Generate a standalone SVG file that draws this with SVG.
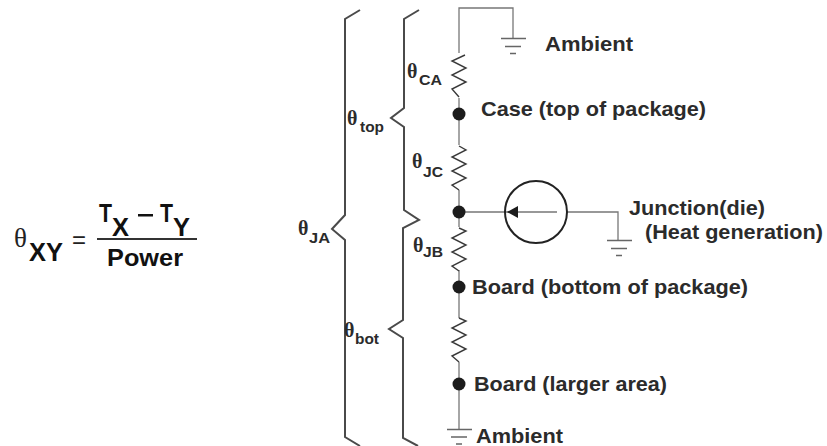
<svg xmlns="http://www.w3.org/2000/svg" width="827" height="446" viewBox="0 0 827 446">
<style>
text{font-family:"Liberation Sans",Arial,sans-serif;font-weight:bold;fill:#2b2b2b}
.lbl{font-size:20.500px}
.sym{font-size:20px;font-family:"Liberation Serif","DejaVu Serif",serif;font-weight:bold}
.sub{font-size:15px}
.f{fill:#111}
.brace{fill:none;stroke:#4a4a4a;stroke-width:2}
.wire{fill:none;stroke:#777;stroke-width:1.3}
.res{fill:none;stroke:#3a3a3a;stroke-width:1.4}
.gnd{fill:none;stroke:#666;stroke-width:1.4}
.dot{fill:#1c1c1c}
</style>
<rect width="827" height="446" fill="#fff"/>
<g id="formula">
<text x="14" y="247" style="font-family:'Liberation Serif',serif;font-weight:normal;font-size:27px;fill:#222">θ</text>
<text class="f" x="29" y="261" font-size="25" textLength="34" lengthAdjust="spacingAndGlyphs">XY</text>
<text x="72" y="248" style="font-size:24px;fill:#222;font-weight:normal">=</text>
<text class="f" x="99" y="222" font-size="26" textLength="13" lengthAdjust="spacingAndGlyphs">T</text>
<text class="f" x="112" y="236" font-size="25" textLength="17" lengthAdjust="spacingAndGlyphs">X</text>
<rect x="138" y="214" width="15" height="2.500" fill="#111"/>
<text class="f" x="160" y="222" font-size="26" textLength="13" lengthAdjust="spacingAndGlyphs">T</text>
<text class="f" x="173" y="236" font-size="25" textLength="17" lengthAdjust="spacingAndGlyphs">Y</text>
<rect x="97" y="238" width="100" height="2" fill="#333"/>
<text class="f" x="107" y="266" font-size="24" textLength="76" lengthAdjust="spacingAndGlyphs">Power</text>
</g>
<g id="connectors">
<path class="brace" d="M360 10L345 19V215L332 229L345 240V437L360 446"/>
<path class="brace" d="M419 10L404 19V108L391 118L404 127V210L419 220L403 228V320L389 329L403 338V438L418 446"/>
<path class="wire" d="M459 53V8H513V38M459 98V145M459 190V227M459 270V318M459 362V429M459 212H557M567 212H618V240"/>
<path class="res" d="M465 55L452 61L466 68L452 75L466 82L452 89L459 97"/>
<path class="res" d="M459 146L466 150L452 157L466 164L452 171L466 178L452 185L459 190"/>
<path class="res" d="M459 228L466 231L452 238L466 245L452 252L466 259L452 266L459 271"/>
<path class="res" d="M459 318L466 321L452 328L466 335L452 342L466 349L452 356L459 362"/>
<path class="gnd" d="M501 38.500H526M505 46.500H521M510 53.500H516"/>
<path class="gnd" d="M607 240.500H632M611 248.500H627M616 255.500H622"/>
<path class="gnd" d="M447 429.500H472M451 437H467M456 444H462"/>
<path d="M507 212L518 206V218Z" fill="#1c1c1c"/>
</g>
<g id="source"><circle cx="536" cy="212" r="31" fill="none" stroke="#222" stroke-width="2"/></g>
<g id="node-case"><circle class="dot" cx="459" cy="114" r="6.500"/><text class="lbl" x="481" y="116" textLength="225" lengthAdjust="spacingAndGlyphs">Case (top of package)</text></g>
<g id="node-junction"><circle class="dot" cx="459" cy="212" r="6.500"/><text class="lbl" x="629" y="215" textLength="136" lengthAdjust="spacingAndGlyphs">Junction(die)</text><text class="lbl" x="645" y="239" textLength="178" lengthAdjust="spacingAndGlyphs">(Heat generation)</text></g>
<g id="node-board-bottom"><circle class="dot" cx="459" cy="287" r="6.500"/><text class="lbl" x="472" y="294" textLength="276" lengthAdjust="spacingAndGlyphs">Board (bottom of package)</text></g>
<g id="node-board-large"><circle class="dot" cx="459" cy="384" r="6.500"/><text class="lbl" x="474" y="391" textLength="193" lengthAdjust="spacingAndGlyphs">Board (larger area)</text></g>
<g id="ambient-top"><text class="lbl" x="545" y="51" textLength="88" lengthAdjust="spacingAndGlyphs">Ambient</text></g>
<g id="ambient-bottom"><text class="lbl" x="476" y="443" textLength="87" lengthAdjust="spacingAndGlyphs">Ambient</text></g>
<g id="labels">
<text class="sym" x="407" y="78">θ</text><text class="sub" x="419" y="85" textLength="23" lengthAdjust="spacingAndGlyphs">CA</text>
<text class="sym" x="347" y="125">θ</text><text class="sub" x="360" y="132" textLength="24" lengthAdjust="spacingAndGlyphs">top</text>
<text class="sym" x="412" y="168">θ</text><text class="sub" x="423" y="177" textLength="20" lengthAdjust="spacingAndGlyphs">JC</text>
<text class="sym" x="298" y="235">θ</text><text class="sub" x="309" y="243" textLength="21" lengthAdjust="spacingAndGlyphs">JA</text>
<text class="sym" x="413" y="252">θ</text><text class="sub" x="423" y="257" textLength="20" lengthAdjust="spacingAndGlyphs">JB</text>
<text class="sym" x="344" y="337">θ</text><text class="sub" x="355" y="344" textLength="24" lengthAdjust="spacingAndGlyphs">bot</text>
</g>
</svg>
